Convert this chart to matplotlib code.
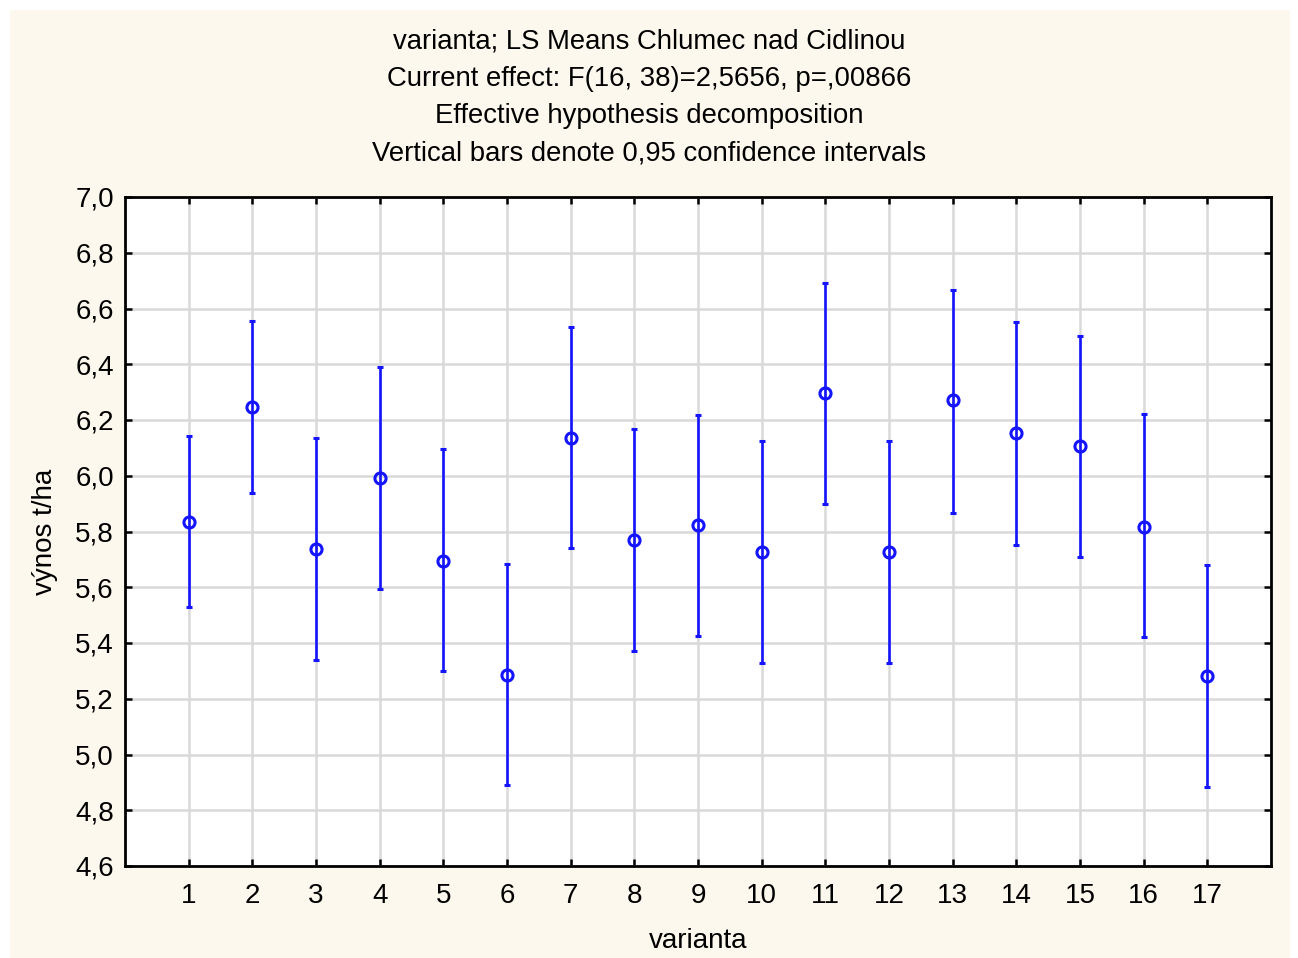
import matplotlib
matplotlib.use("Agg")
import matplotlib.pyplot as plt
from matplotlib.patches import Rectangle

plt.rcParams['font.family'] = ['Liberation Sans', 'DejaVu Sans']

varianta = list(range(1, 18))
means = [5.834, 6.247, 5.737, 5.992, 5.694, 5.285, 6.135, 5.770, 5.823,
         5.726, 6.297, 5.726, 6.272, 6.153, 6.107, 5.816, 5.282]
upper = [6.143, 6.555, 6.135, 6.390, 6.096, 5.683, 6.534, 6.168, 6.218,
         6.125, 6.691, 6.125, 6.666, 6.552, 6.501, 6.221, 5.680]
lower = [5.529, 5.938, 5.339, 5.594, 5.300, 4.891, 5.741, 5.371, 5.425,
         5.328, 5.899, 5.328, 5.866, 5.752, 5.709, 5.422, 4.883]
yticks = [4.6, 4.8, 5.0, 5.2, 5.4, 5.6, 5.8, 6.0, 6.2, 6.4, 6.6, 6.8, 7.0]
title_lines = ["varianta; LS Means Chlumec nad Cidlinou",
               "Current effect: F(16, 38)=2,5656, p=,00866",
               "Effective hypothesis decomposition",
               "Vertical bars denote 0,95 confidence intervals"]

W, H = 1298, 958
fig = plt.figure(figsize=(W / 100, H / 100), dpi=100)
fig.patch.set_facecolor('white')
fig.patches.append(Rectangle((10 / W, 0), (1290 - 10) / W, (H - 10) / H,
                             transform=fig.transFigure, facecolor='#fdf8ee',
                             edgecolor='none', zorder=-10))

ax = fig.add_axes([125 / W, 1 - 866 / H, (1271 - 125) / W, (866 - 197) / H])
ax.set_facecolor('white')

yerr = [[m - l for m, l in zip(means, lower)], [u - m for m, u in zip(means, upper)]]
ax.errorbar(varianta, means, yerr=yerr, fmt='o', color='#1414ff', ecolor='#1414ff',
            elinewidth=1.9, capsize=2.5, capthick=1.9, markersize=8,
            markerfacecolor='none', markeredgewidth=2.2, zorder=5)

ax.set_xlim(0, 18)
ax.set_ylim(4.6, 7.0)
ax.set_xticks(varianta)
ax.set_xticklabels([str(v) for v in varianta])
ax.set_yticks(yticks)
ax.set_yticklabels([f"{t:.1f}".replace('.', ',') for t in yticks])
ax.grid(True, color='#d9d9d9', linewidth=1.8, zorder=0)
ax.set_axisbelow(True)
ax.tick_params(direction='in', length=5, width=1.8, top=True, right=True,
               labelsize=20, colors='black')
ax.tick_params(axis='x', pad=12)
ax.tick_params(axis='y', pad=8)
for s in ax.spines.values():
    s.set_linewidth(2)
    s.set_color('black')

ax.set_xlabel('varianta', fontsize=20, labelpad=14)
ax.set_ylabel('výnos t/ha', fontsize=20, labelpad=12)

for i, line in enumerate(title_lines):
    fig.text(0.5, 1 - (42 + 37.2 * i) / H, line, ha='center', va='center', fontsize=19.8)

fig.savefig('out.png', dpi=100, facecolor=fig.get_facecolor())
